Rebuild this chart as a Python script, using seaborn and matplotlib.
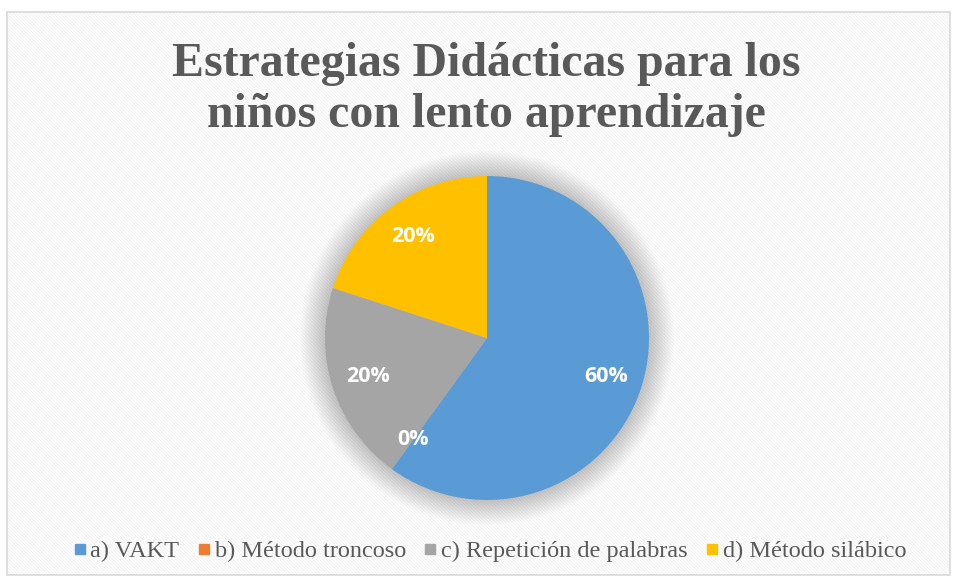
import matplotlib
matplotlib.use("Agg")
import matplotlib.pyplot as plt
from matplotlib.patches import Rectangle, Circle
from matplotlib.lines import Line2D
import seaborn as sns

# data
categories = ["a) VAKT", "b) Método troncoso", "c) Repetición de palabras", "d) Método silábico"]
percentages = [60, 0, 20, 20]
colors = ["#5B9BD5", "#ED7D31", "#A5A5A5", "#FFC000"]
title = "Estrategias Didácticas para los\nniños con lento aprendizaje"

sns.set_theme(style="white")
plt.rcParams["font.family"] = ["DejaVu Sans"]
plt.rcParams["hatch.linewidth"] = 0.7

W, H = 955, 579
fig = plt.figure(figsize=(W / 100, H / 100), dpi=100)
fig.patch.set_facecolor("white")

# chart area: faint diagonal stripes + light border
bg = Rectangle((7 / W, 4 / H), 943 / W, 563 / H, transform=fig.transFigure,
               facecolor="white", edgecolor="#f2f2f2", hatch="\\" * 10, linewidth=0, zorder=-2)
fig.patches.append(bg)
border = Rectangle((7 / W, 4 / H), 943 / W, 563 / H, transform=fig.transFigure,
                   facecolor="none", edgecolor="#d9d9d9", linewidth=1.2, zorder=-1)
fig.patches.append(border)

fig.text(486 / W, 1 - 137 / H, title, ha="center", va="bottom", fontsize=34.5, fontweight="bold",
         family="Liberation Serif", color="#595959", linespacing=1.2)

# pie
cx, cy, r = 487, 338, 162
ax = fig.add_axes([(cx - r) / W, (H - cy - r) / H, 2 * r / W, 2 * r / H])
ax.set_facecolor("none")

# soft shadow behind the pie
for i in range(14):
    ax.add_patch(Circle((0, 0), 1.0 + 0.011 * (14 - i), color="#000000", alpha=0.014,
                        lw=0, zorder=0, clip_on=False))

wedges, texts, autotexts = ax.pie(
    percentages, colors=colors, startangle=90, counterclock=False,
    autopct="%.0f%%", pctdistance=0.775, radius=1.0,
    wedgeprops=dict(linewidth=0),
    textprops=dict(color="white", fontsize=15.5, fontweight="bold", family="Open Sans"))
ax.set_xlim(-1, 1)
ax.set_ylim(-1, 1)
ax.set_aspect("equal")
ax.axis("off")

handles = [Line2D([], [], marker="s", linestyle="none", markersize=7.5,
                  markerfacecolor=c, markeredgecolor=c) for c in colors]
leg = fig.legend(handles, categories, loc="center", bbox_to_anchor=(490 / W, 1 - 551 / H),
                 ncol=4, frameon=False, handlelength=0.5, handletextpad=0.2,
                 columnspacing=0.75,
                 prop={"family": "Liberation Serif", "size": 17.5})
for t in leg.get_texts():
    t.set_color("#595959")

fig.savefig("out.png", dpi=100)
